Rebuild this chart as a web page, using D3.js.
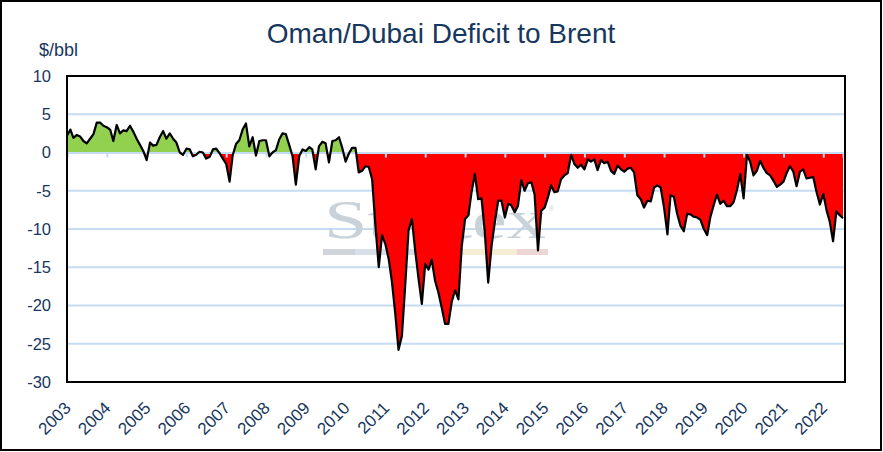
<!DOCTYPE html>
<html>
<head>
<meta charset="utf-8">
<script src="https://cdn.jsdelivr.net/npm/d3@7"></script>
<style>
  body { margin: 0; background: #fff; }
  text { font-family: "Liberation Sans", Arial, sans-serif; fill: #17375e; }
</style>
</head>
<body>
<svg id="chart" width="883" height="452"></svg>
<script>
// monthly Oman/Dubai minus Brent spread, $/bbl (Jan 2003 .. Jul 2022)
const years = [2003, 2004, 2005, 2006, 2007, 2008, 2009, 2010, 2011, 2012,
  2013, 2014, 2015, 2016, 2017, 2018, 2019, 2020, 2021, 2022];
const spreadByYear = [
  [2.2, 3.0, 1.9, 2.3, 2.1, 1.5, 1.2, 1.8, 2.4, 3.9, 3.9, 3.5],
  [3.3, 3.0, 1.5, 3.6, 2.5, 2.9, 2.8, 3.5, 2.7, 1.8, 1.0, 0.2],
  [-1.0, 1.3, 0.9, 1.0, 2.0, 2.8, 1.8, 2.5, 1.8, 1.3, 0.0, -0.3],
  [0.5, 0.4, -0.5, -0.3, 0.1, 0.0, -0.8, -0.6, 0.4, 0.5, -0.1, -0.8],
  [-1.5, -3.8, -0.4, 1.1, 1.6, 3.0, 3.8, 0.8, 2.0, -0.4, 1.5, 1.6],
  [1.6, -0.5, 0.0, 0.3, 1.7, 2.5, 2.4, 1.0, -0.5, -4.2, -0.5, 0.4],
  [0.2, 0.7, 0.4, -2.2, 0.8, 1.4, 1.2, -1.3, 1.5, 1.6, 2.0, 0.6],
  [-1.2, -0.1, 0.6, 0.6, -2.6, -2.4, -1.8, -1.9, -3.5, -9.5, -15.0, -10.8],
  [-12.0, -14.0, -16.8, -21.0, -25.8, -24.0, -17.5, -10.2, -8.7, -12.8, -16.5, -19.8],
  [-14.6, -15.3, -14.0, -16.8, -18.3, -20.3, -22.4, -22.4, -19.5, -18.0, -19.2, -12.3],
  [-8.7, -8.2, -5.2, -2.8, -6.1, -6.0, -10.4, -17.0, -12.2, -9.1, -6.3, -6.3],
  [-8.5, -6.7, -6.9, -7.8, -7.0, -3.6, -5.0, -4.0, -3.9, -5.5, -12.8, -7.6],
  [-7.2, -5.8, -4.3, -5.2, -5.1, -3.5, -3.0, -2.7, -0.3, -1.5, -2.0, -1.6],
  [-2.2, -0.9, -1.2, -0.9, -2.3, -1.0, -1.4, -1.2, -2.4, -2.8, -1.7, -2.2],
  [-2.5, -2.1, -2.0, -2.6, -5.6, -6.1, -7.2, -6.3, -6.4, -4.6, -4.3, -4.6],
  [-7.2, -10.7, -5.6, -5.8, -8.0, -9.6, -10.3, -8.0, -8.1, -8.4, -8.5, -8.8],
  [-10.0, -10.8, -8.5, -6.9, -5.5, -6.7, -6.3, -7.0, -7.0, -6.5, -4.9, -2.8],
  [-6.0, -0.3, -1.2, -3.0, -2.4, -1.1, -2.0, -2.7, -3.0, -3.7, -4.5, -4.2],
  [-3.8, -2.6, -1.8, -2.5, -4.4, -2.5, -2.2, -3.4, -3.3, -3.2, -5.2, -6.8],
  [-5.4, -7.6, -9.0, -11.6, -7.7, -8.2, -8.6]
];
const yTicks = [10, 5, 0, -5, -10, -15, -20, -25, -30];

const data = [];
spreadByYear.forEach((vals, i) => {
  vals.forEach((v, m) => data.push({ date: new Date(years[i], m, 1), value: v }));
});

const svg = d3.select("#chart");
const plotLeft = 67, plotRight = 843, plotTop = 76, plotBottom = 382;

const x = d3.scaleTime()
  .domain([data[0].date, data[data.length - 1].date])
  .range([plotLeft, plotRight]);
const y = d3.scaleLinear().domain([-30, 10]).range([plotBottom, plotTop]);

// outer frame
svg.append("rect")
  .attr("x", 1).attr("y", 1).attr("width", 880).attr("height", 449)
  .attr("fill", "#fff").attr("stroke", "#000").attr("stroke-width", 2);

// title + unit
svg.append("text")
  .attr("x", 441).attr("y", 43)
  .attr("text-anchor", "middle")
  .style("font-size", "28px")
  .text("Oman/Dubai Deficit to Brent");
svg.append("text")
  .attr("x", 39).attr("y", 56)
  .style("font-size", "18px")
  .text("$/bbl");

// gridlines
svg.append("g").selectAll("line")
  .data(yTicks.filter(d => d !== 0 && d !== 10 && d !== -30))
  .join("line")
  .attr("x1", plotLeft).attr("x2", plotRight + 2)
  .attr("y1", d => y(d)).attr("y2", d => y(d))
  .attr("stroke", "#c6dcf2").attr("stroke-width", 2);

// watermark
const wm = svg.append("g");
wm.append("text")
  .attr("x", 324).attr("y", 238)
  .attr("textLength", 222).attr("lengthAdjust", "spacingAndGlyphs")
  .style("font-family", "'Liberation Serif', 'DejaVu Serif', serif")
  .style("font-size", "54px")
  .style("fill", "#c9d1d9")
  .text("Stratex");
wm.append("text")
  .attr("x", 549).attr("y", 211)
  .style("font-size", "7px").style("fill", "#c9d1d9")
  .text("®");
const wmBands = [[323, 355, "#cfd5db"], [355, 463, "#d8e0ea"], [463, 517, "#f6eed4"], [517, 548, "#efd6d6"]];
wm.selectAll("rect").data(wmBands).join("rect")
  .attr("x", d => d[0]).attr("width", d => d[1] - d[0])
  .attr("y", 249).attr("height", 6)
  .attr("fill", d => d[2]);

// area, split at zero
const defs = svg.append("defs");
defs.append("clipPath").attr("id", "above")
  .append("rect").attr("x", plotLeft).attr("y", plotTop)
  .attr("width", plotRight - plotLeft).attr("height", y(0) - plotTop);
defs.append("clipPath").attr("id", "below")
  .append("rect").attr("x", plotLeft).attr("y", y(0))
  .attr("width", plotRight - plotLeft).attr("height", plotBottom - y(0));

const area = d3.area()
  .x(d => x(d.date))
  .y0(y(0))
  .y1(d => y(d.value));

svg.append("path").datum(data)
  .attr("clip-path", "url(#above)")
  .attr("fill", "#92d050")
  .attr("d", area);
svg.append("path").datum(data)
  .attr("clip-path", "url(#below)")
  .attr("fill", "#ff0000")
  .attr("d", area);

// zero axis with hanging ticks
const xAxis = d3.axisBottom(x)
  .ticks(d3.timeYear.every(1))
  .tickSize(5)
  .tickFormat("");
const gx = svg.append("g")
  .attr("transform", `translate(0,${y(0)})`)
  .call(xAxis);
gx.select(".domain").attr("stroke", "#c6dcf2").attr("stroke-width", 2);
gx.selectAll(".tick line").attr("stroke", "#c6dcf2").attr("stroke-width", 2);

svg.append("path").datum(data)
  .attr("fill", "none")
  .attr("stroke", "#000")
  .attr("stroke-width", 2.2)
  .attr("stroke-linejoin", "round")
  .attr("d", d3.line().x(d => x(d.date)).y(d => y(d.value)));

// plot border
svg.append("rect")
  .attr("x", plotLeft).attr("y", plotTop)
  .attr("width", plotRight - plotLeft + 2).attr("height", plotBottom - plotTop)
  .attr("fill", "none").attr("stroke", "#000").attr("stroke-width", 2);

// y labels
svg.append("g").selectAll("text")
  .data(yTicks)
  .join("text")
  .attr("x", 51).attr("y", d => y(d))
  .attr("dy", "0.35em")
  .attr("text-anchor", "end")
  .style("font-size", "16.5px")
  .text(d => d);

// year labels, rotated
svg.append("g").selectAll("text")
  .data(x.ticks(d3.timeYear.every(1)))
  .join("text")
  .attr("transform", d => `translate(${x(d) + 5},409) rotate(-45)`)
  .attr("text-anchor", "end")
  .style("font-size", "17px")
  .text(d3.timeFormat("%Y"));
</script>
</body>
</html>
